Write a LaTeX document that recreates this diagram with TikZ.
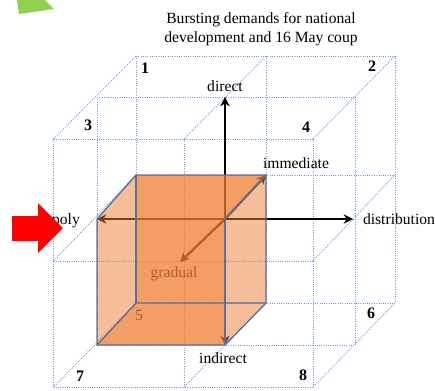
\documentclass[tikz,border=0pt]{standalone}
\usepackage{xcolor}
\usepackage{fontspec}
\setmainfont{Liberation Serif}
\usetikzlibrary{arrows.meta,positioning}
\definecolor{gridblue}{HTML}{7096E0}
\definecolor{cubeorange}{HTML}{ED7D31}
\definecolor{cubeedge}{HTML}{56719F}
\definecolor{leafgreen}{HTML}{92D050}

\begin{document}
\begin{tikzpicture}[
  x=.75pt,y=-.75pt,
  >=Stealth,
  gridline/.style={gridblue,densely dotted,line width=.7pt},
  axisarrow/.style={line width=2pt,-{Stealth[length=7pt,width=7pt]}},
  sidearrow/.style={line width=1.6pt,-{Stealth[length=7pt,width=7pt]}},
  facelight/.style={fill=cubeorange,fill opacity=.5},
  facedark/.style={fill=cubeorange,fill opacity=.75},
  cubeline/.style={cubeedge,line width=1pt},
  every node/.style={font=\fontsize{11.7}{14}\selectfont,inner sep=0pt},
  numlabel/.style={font=\fontsize{12}{14}\selectfont\bfseries}
]
  \useasboundingbox (0,0) rectangle (435,390);
  % back, middle and front planes
  \foreach \plane/\xa/\xb/\xc/\ya/\yb/\yc in {b/136/266/395/56/175/303,m/97/225/355/97/219/345,f/53.5/184/313/139/261/387}{
    \foreach \col/\x in {1/\xa,2/\xb,3/\xc}{
      \foreach \row/\y in {1/\ya,2/\yb,3/\yc}{
        \coordinate (\plane\col\row) at (\x,\y);
      }
    }
  }
  \foreach \i in {1,2,3}{
    \foreach \plane in {b,m,f}{
      \draw[gridline] (\plane\i1) -- (\plane\i3);
      \draw[gridline] (\plane1\i) -- (\plane3\i);
    }
    \foreach \j in {1,2,3}{
      \draw[gridline] (b\i\j) -- (f\i\j);
    }
  }
  \coordinate (distend) at (353,219);
  \coordinate (gradend) at (180,262);
  % arrows sit below the orange faces
  \draw[axisarrow] (m22) -- (m21);
  \draw[axisarrow] (m22) -- (distend);
  \draw[axisarrow] (m22) -- (m12);
  \draw[axisarrow] (m22) -- (m23);
  \draw[sidearrow] (m22) -- (b22);
  \draw[sidearrow] (m22) -- (gradend);
  \node (gradual) at (174,274) {gradual};
  \node (five) at (139,315) {5};
  \fill[facedark] (b12) -- (b22) -- (m22) -- (m23) -- (m13) -- (b13) -- cycle;
  \fill[facelight] (m12) -- (b12) -- (b13) -- (m13) -- cycle;
  \fill[facelight] (m22) -- (b22) -- (b23) -- (m23) -- cycle;
  \draw[cubeline] (m12) -- (b12) -- (b22) -- (b23) -- (m23) -- (m13) -- cycle;
  \draw[cubeline] (m13) -- (b13) -- (b23);
  \draw[cubeline] (b12) -- (b13);
  \draw[cubeline] (m22) -- (m23);
  \draw[cubeline] (m22) -- (b22);
  \node[align=center] (title) at (261,29) {Bursting demands for national\\development and 16 May coup};
  \node (direct) at (225,86) {direct};
  \node (immediate) at (296,163) {immediate};
  \node (distribution) at (399,219) {distribution};
  \node (poly) at (66,221) {poly};
  \node (indirect) at (223,358) {indirect};
  \foreach \num/\x/\y in {1/145/68,2/372/66,3/88/125,4/306/127,6/371/313,7/80/376,8/303/375}{
    \node[numlabel] (num\num) at (\x,\y) {\num};
  }
  \fill[red] (12,216) -- (38,216) -- (38,203) -- (63,228) -- (38,253) -- (38,241) -- (12,241) -- cycle;
  \fill[leafgreen] (17,0) -- (45,0) -- (54,9) -- (19,14) -- cycle;
\end{tikzpicture}
\end{document}
